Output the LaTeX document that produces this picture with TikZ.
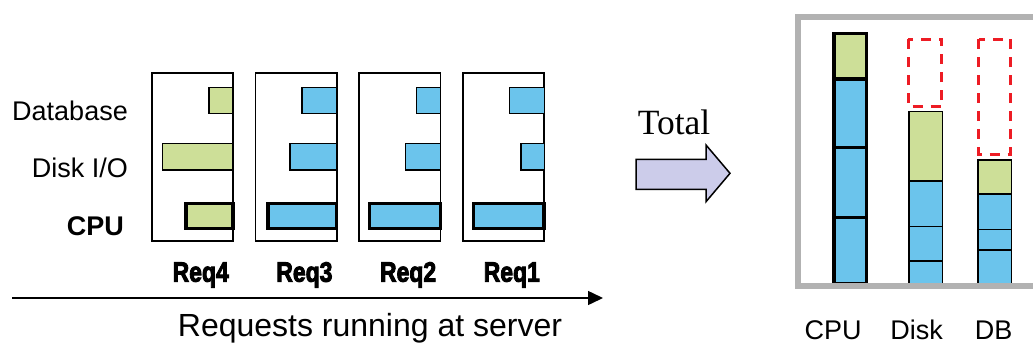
\documentclass[tikz,border=0pt]{standalone}
\usepackage{fontspec}
\setmainfont{Liberation Sans}
\newfontfamily\serifface{Liberation Serif}
\newfontfamily\reqface{Liberation Sans Bold}[FakeBold=3.5]
\usetikzlibrary{positioning,arrows.meta}
\definecolor{reqgreen}{RGB}{205,223,152}
\definecolor{reqblue}{RGB}{107,196,236}
\definecolor{framegray}{RGB}{178,178,178}
\definecolor{arrowfill}{RGB}{204,204,234}
\definecolor{slackred}{RGB}{237,28,36}

\begin{document}
\begin{tikzpicture}[x=1pt,y=-1pt,
		panel/.style={draw,line width=1.7pt},
		bar/.style={draw,line width=1.5pt},
		cpubar/.style={draw,line width=3.5pt},
		slack/.style={draw=slackred,line width=3pt,dash pattern=on 10pt off 8pt},
		lbl/.style={inner sep=0pt,font=\fontsize{27}{30}\selectfont},
		reqlbl/.style={inner sep=0pt,anchor=base,font=\reqface\fontsize{28}{30}\selectfont}]
	\useasboundingbox (0,0) rectangle (1033,345);
	% per-request panels
	\foreach \i/\name/\col/\db/\disk/\cpu in
		{0/Req4/reqgreen/24/70.5/47, 1/Req3/reqblue/35/47/69,
		 2/Req2/reqblue/24/35/71, 3/Req1/reqblue/35/23.5/71}{
		\pgfmathsetmacro\xl{151.7+103.7*\i}
		\pgfmathsetmacro\xr{\xl+81.5}
		\draw[panel] (\xl,72.7) rectangle (\xr,241);
		\draw[bar,fill=\col] ({\xr-\db},87.3) rectangle (\xr,113.3);
		\draw[bar,fill=\col] ({\xr-\disk},143.3) rectangle (\xr,170);
		\draw[cpubar,fill=\col] ({\xr-\cpu},203.4) rectangle ({\xr-0.2},228.3);
		\node[reqlbl] (\name) at ({\xl+49},281.7) {\scalebox{0.82}[1]{\name}};
	}
	\node[lbl,anchor=east] (database) at (128,111) {Database};
	\node[lbl,anchor=east] (diskio) at (128,168) {Disk I/O};
	\node[lbl,anchor=east,font=\bfseries\fontsize{27}{30}\selectfont] (cpu) at (124,226) {CPU};
	\coordinate (axisL) at (12,298);
	\coordinate (axisR) at (603,298);
	\draw[line width=1.5pt,-{Triangle[length=15pt,width=14pt]}] (axisL) -- (axisR);
	\node[inner sep=0pt,font=\fontsize{32}{34}\selectfont] (server) at (370,328) {Requests running at server};
	% total arrow
	\node[inner sep=0pt,font=\serifface\fontsize{35.5}{38}\selectfont] (total) at (674,122) {Total};
	\draw[line width=1.5pt,fill=arrowfill] (636,159.3) -- (706,159.3) -- (706,145) -- (730,173.3)
		-- (706,201.7) -- (706,189.3) -- (636,189.3) -- cycle;
	% stacked totals
	\foreach \top/\bot/\col in {33.5/79/reqgreen, 79/147.7/reqblue, 147.7/217.3/reqblue, 217.3/283.3/reqblue}
		\draw[cpubar,fill=\col] (834,\top) rectangle (866.5,\bot);
	\foreach \top/\bot/\col in {111.7/181/reqgreen, 181/226.7/reqblue, 226.7/261/reqblue, 261/283.3/reqblue}
		\draw[bar,fill=\col] (909,\top) rectangle (942.5,\bot);
	\foreach \top/\bot/\col in {160/194/reqgreen, 194/229.3/reqblue, 229.3/250/reqblue, 250/283.3/reqblue}
		\draw[bar,fill=\col] (978,\top) rectangle (1011.5,\bot);
	\draw[slack] (908.2,39.2) rectangle (941.8,106.8);
	\draw[slack] (978.5,39.2) rectangle (1010.5,154.2);
	\draw[framegray,line width=5.7pt] (797.85,16.85) rectangle (1050,286.15);
	\node[lbl] (cpuT) at (833,330) {CPU};
	\node[lbl] (diskT) at (916.5,330) {Disk};
	\node[lbl] (dbT) at (993.5,330) {DB};
\end{tikzpicture}
\end{document}
